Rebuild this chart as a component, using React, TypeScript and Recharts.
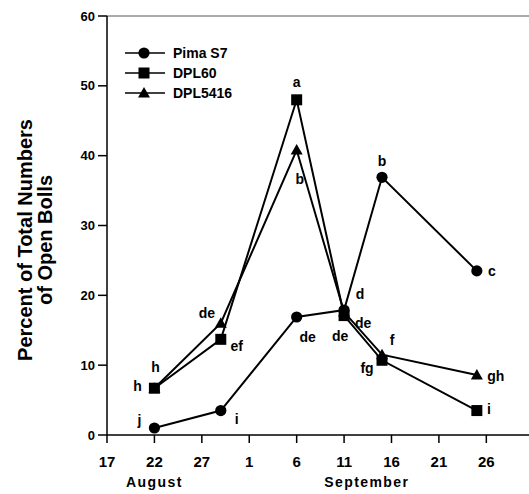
import {
    LineChart,
    Line,
    XAxis,
    YAxis,
    Legend,
    Label,
    LabelList,
    ReferenceLine,
} from "recharts";

// sampling days, counted from Aug 17 (Aug 22, Aug 29, Sep 6, Sep 11, Sep 15, Sep 25)
const sampleDays = [5, 12, 20, 25, 29, 39];
const pimaS7 = [1.0, 3.5, 16.9, 17.9, 36.9, 23.5];
const dpl60 = [6.7, 13.7, 48.0, 17.1, 10.7, 3.5];
const dpl5416 = [6.7, 16.0, 40.8, 17.6, 11.5, 8.6];

// mean separation letters
const pimaLetters = ["j", "i", "de", "d", "b", "c"];
const dpl60Letters = ["h", "ef", "a", "de", "fg", "i"];
const dpl5416Letters = ["h", "de", "b", "de", "f", "gh"];

const xTicks = [0, 5, 10, 15, 20, 25, 30, 35, 40];
const xTickLabels = ["17", "22", "27", "1", "6", "11", "16", "21", "26"];
const yTicks = [0, 10, 20, 30, 40, 50, 60];
const months = ["August", "September"];

const data = sampleDays.map((day, i) => ({
    day,
    pima: pimaS7[i],
    dpl60: dpl60[i],
    dpl5416: dpl5416[i],
    pimaSig: pimaLetters[i],
    dpl60Sig: dpl60Letters[i],
    dpl5416Sig: dpl5416Letters[i],
}));

// where each letter sits relative to its point
const letterOffsets: Record<string, number[][]> = {
    pima: [[-15, -8], [16, 9], [11, 20], [16, -16], [0, -16], [15, 0]],
    dpl60: [[-17, -2], [16, 7], [0, -18], [-4, 21], [-15, 8], [12, -1]],
    dpl5416: [[1, -21], [-14, -10], [3, 29], [19, 11], [10, -15], [19, 1]],
};
const monthAnchorDays = [5, 27.4];

const X_MAX = 44.5;
const FONT = "'Liberation Sans', Arial, sans-serif";

const Marker = ({ shape, cx, cy }: any) => {
    if (shape === "circle") return <circle cx={cx} cy={cy} r={5.6} fill="#000" />;
    if (shape === "square") return <rect x={cx - 5.5} y={cy - 5.5} width={11} height={11} fill="#000" />;
    return <polygon points={`${cx},${cy - 6} ${cx - 6},${cy + 4.5} ${cx + 6},${cy + 4.5}`} fill="#000" />;
};

const series = [
    { key: "pima", name: "Pima S7", shape: "circle" },
    { key: "dpl60", name: "DPL60", shape: "square" },
    { key: "dpl5416", name: "DPL5416", shape: "triangle" },
];

const renderLegend = () => (
    <svg width={130} height={64}>
        {series.map((s, i) => (
            <g key={s.key}>
                <line x1={5} x2={45} y1={12 + i * 20} y2={12 + i * 20} stroke="#000" strokeWidth={1.5} />
                <Marker shape={s.shape} cx={24} cy={12 + i * 20} />
                <text x={53} y={12 + i * 20} dy="0.35em" fontSize={14} fontWeight="bold" fontFamily={FONT} fill="#000">
                    {s.name}
                </text>
            </g>
        ))}
    </svg>
);

const letterLabel = (key: string) => (props: any) => {
    const { x, y, value, index } = props;
    const [dx, dy] = letterOffsets[key][index];
    return (
        <text x={x + dx} y={y + dy} dy="0.35em" textAnchor="middle" fontSize={14} fontWeight="bold" fontFamily={FONT} fill="#000">
            {value}
        </text>
    );
};

const YTitle = () => (
    <text transform="translate(32, 240) rotate(-90)" textAnchor="middle" fontSize={20} fontWeight="bold" fontFamily={FONT} fill="#000">
        <tspan x={0} y={0}>Percent of Total Numbers</tspan>
        <tspan x={0} y={19.5}>of Open Bolls</tspan>
    </text>
);

const MonthTitles = (props: any) => {
    const { x, y, width } = props.viewBox;
    return (
        <g>
            {months.map((m, i) => (
                <text key={m} x={x + (monthAnchorDays[i] * width) / X_MAX} y={y + 52} textAnchor="middle" fontSize={14} fontWeight="bold" letterSpacing={1.4} fontFamily={FONT} fill="#000">
                    {m}
                </text>
            ))}
        </g>
    );
};

export default function App() {
    return (
        <div style={{ position: "absolute", left: 0, top: 0 }}>
            <LineChart width={529} height={494} data={data} margin={{ top: 16, right: 0, bottom: 0, left: 0 }}>
                <XAxis
                    type="number"
                    dataKey="day"
                    domain={[0, X_MAX]}
                    ticks={xTicks}
                    tickFormatter={(v: number) => xTickLabels[xTicks.indexOf(v)]}
                    height={59}
                    tickSize={8}
                    tickMargin={13}
                    axisLine={{ stroke: "#000", strokeWidth: 1.5 }}
                    tickLine={{ stroke: "#000", strokeWidth: 1.5 }}
                    tick={{ fontSize: 15, fontWeight: "bold", fill: "#000", fontFamily: FONT }}
                    allowDataOverflow
                >
                    <Label content={MonthTitles} />
                </XAxis>
                <YAxis
                    type="number"
                    domain={[0, 60]}
                    ticks={yTicks}
                    width={107}
                    tickSize={9}
                    tickMargin={3}
                    axisLine={{ stroke: "#000", strokeWidth: 1.5 }}
                    tickLine={{ stroke: "#000", strokeWidth: 1.5 }}
                    tick={{ fontSize: 13, fontWeight: "bold", fill: "#000", fontFamily: FONT }}
                >
                    <Label content={YTitle} />
                </YAxis>
                <ReferenceLine y={60} stroke="#555" strokeWidth={1} />
                <Legend
                    layout="vertical"
                    align="center"
                    verticalAlign="middle"
                    content={renderLegend}
                    wrapperStyle={{ left: 120, top: 41, width: 130, height: 64 }}
                />
                {series.map((s) => (
                    <Line
                        key={s.key}
                        type="linear"
                        dataKey={s.key}
                        name={s.name}
                        stroke="#000"
                        strokeWidth={2}
                        dot={(p: any) => <Marker key={`${s.key}-${p.index}`} shape={s.shape} cx={p.cx} cy={p.cy} />}
                        activeDot={false}
                        isAnimationActive={false}
                    >
                        <LabelList dataKey={`${s.key}Sig`} content={letterLabel(s.key)} />
                    </Line>
                ))}
            </LineChart>
        </div>
    );
}
